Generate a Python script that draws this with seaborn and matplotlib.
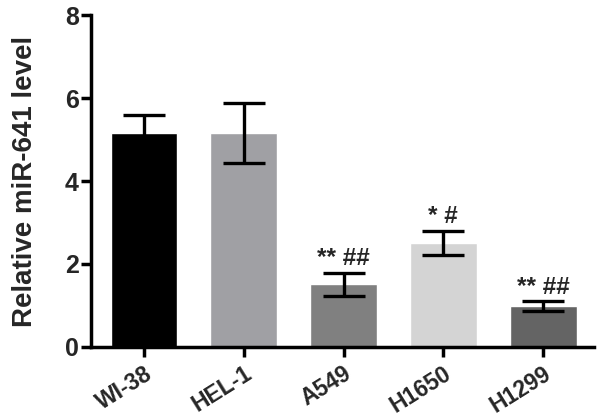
import matplotlib
matplotlib.use("Agg")
import matplotlib.pyplot as plt
import seaborn as sns
import pandas as pd

# values
cell_lines = ["WI-38", "HEL-1", "A549", "H1650", "H1299"]
mean_level = [5.16, 5.16, 1.51, 2.51, 0.98]
sd_level = [0.43, 0.73, 0.28, 0.29, 0.12]
bar_colors = ["#000000", "#a0a0a4", "#808080", "#d4d4d4", "#646464"]
sig_marks = ["", "", "** ##", "* #", "** ##"]

sns.set_theme(style="ticks")
plt.rcParams["font.family"] = ["Liberation Sans", "DejaVu Sans"]
plt.rcParams["font.weight"] = "bold"

df = pd.DataFrame({"cell": cell_lines, "level": mean_level})

fig = plt.figure(figsize=(6, 4.2), dpi=100)
ax = fig.add_axes([0.152, 0.174, 0.838, 0.79])

sns.barplot(data=df, x="cell", y="level", hue="cell", palette=bar_colors,
            width=0.67, legend=False, ax=ax, saturation=1, errorbar=None)

xs = range(len(cell_lines))
ax.errorbar(xs, mean_level, yerr=sd_level, fmt="none", ecolor="black",
            elinewidth=2.4, capsize=15, capthick=2.4, zorder=3)

for x, m, s, lab in zip(xs, mean_level, sd_level, sig_marks):
    if lab:
        ax.text(x, m + s + 0.06, lab, ha="center", va="bottom",
                fontsize=17.5, fontweight="bold")

ax.set_ylim(0, 8)
ax.set_xlim(-0.53, 4.51)
ax.set_yticks([0, 2, 4, 6, 8])
ax.set_xlabel("")
ax.set_ylabel("Relative miR-641 level", fontsize=20, fontweight="bold", labelpad=19)

for side in ["top", "right"]:
    ax.spines[side].set_visible(False)
for side in ["left", "bottom"]:
    ax.spines[side].set_linewidth(2.5)
    ax.spines[side].set_color("black")

ax.tick_params(axis="both", width=2.5, length=7, color="black", direction="out")
ax.tick_params(axis="y", labelsize=18, pad=2)
ax.tick_params(axis="x", labelsize=16.5, pad=4)
for t in ax.get_yticklabels():
    t.set_fontweight("bold")
for t in ax.get_xticklabels():
    t.set_fontweight("bold")
    t.set_rotation(32)
    t.set_ha("right")
    t.set_rotation_mode("anchor")

fig.savefig("out.png", dpi=100)
